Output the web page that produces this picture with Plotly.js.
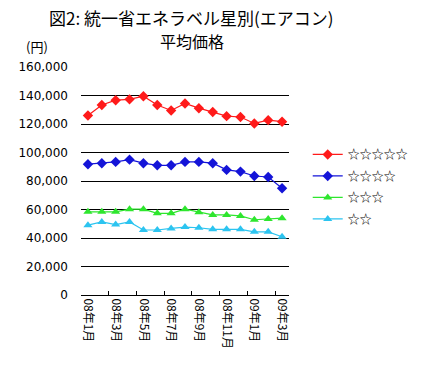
<!DOCTYPE html>
<html><head><meta charset="utf-8">
<script src="https://cdn.plot.ly/plotly-3.0.1.min.js"></script>
<style>html,body{margin:0;padding:0;background:#fff;}#chart{width:429px;height:390px;}</style>
</head><body><div id="chart"></div>
<script>
const months = ["08年1月","08年2月","08年3月","08年4月","08年5月","08年6月","08年7月","08年8月","08年9月","08年10月","08年11月","08年12月","09年1月","09年2月","09年3月"];
const tickLabels = ["08年1月","08年3月","08年5月","08年7月","08年9月","08年11月","09年1月","09年3月"];
const seriesNames = ["☆☆☆☆☆","☆☆☆☆","☆☆☆","☆☆"];
const star5 = [126000,133300,136700,137300,139500,133300,129500,134400,131100,128400,125500,124900,120400,122700,121600];
const star4 = [91800,92500,93400,95000,92500,91000,91000,93400,93400,92500,87800,86600,83500,82800,74900];
const star3 = [58400,58400,58400,60200,60200,57300,57300,60200,58000,56200,56200,55500,52800,53300,53900];
const star2 = [49000,51250,49450,51250,45600,45600,46750,47650,47200,46100,46100,46100,44300,44300,40900];
const titleLine1 = "図2: 統一省エネラベル星別(エアコン)";
const titleLine2 = "平均価格";
const yUnit = "(円)";

const colors = ["#ff1a1a","#1414d8","#2ee62e","#2cc4f0"];
const symbols = ["diamond","diamond","triangle-up","triangle-up"];
const values = [star5, star4, star3, star2];
const traces = values.map((v,i)=>({
  x: months, y: v, name: seriesNames[i], legendgroup: "g"+i, type: "scatter", mode: "lines+markers",
  line: {color: colors[i], width: 1.2},
  marker: {color: colors[i], symbol: symbols[i], size: 8}
}));
const F = "'Noto Sans CJK JP', 'DejaVu Sans', sans-serif";
const layout = {
  width: 429, height: 390,
  margin: {l: 81, r: 140, t: 67, b: 95},
  paper_bgcolor: "#fff", plot_bgcolor: "#fff",
  font: {family: F, size: 11, color: "#000"},
  showlegend: true,
  legend: {x: 1.09, xanchor: "left", y: 0.68, yanchor: "top", font: {family: F, size: 12, color: "#000"},
           bgcolor: "rgba(0,0,0,0)", borderwidth: 0, tracegroupgap: 2.5},
  xaxis: {type: "category", categoryorder: "array", categoryarray: months,
          tickvals: tickLabels, ticktext: tickLabels, tickson: "boundaries",
          tickangle: 90, ticks: "inside", ticklen: 4, tickcolor: "#000", tickwidth: 1,
          showline: true, linecolor: "#000", linewidth: 1, showgrid: false,
          tickfont: {family: F, size: 12, color: "#000"}, range: [-0.5, 14.5]},
  yaxis: {range: [0, 160000], dtick: 20000, tickformat: ",", showgrid: true, gridcolor: "#000", gridwidth: 1,
          zeroline: false, showline: false, ticks: "", ticklabelstandoff: 12,
          tickfont: {family: "'DejaVu Sans', sans-serif", size: 12, color: "#000"}},
  annotations: [
    {text: titleLine1, xref: "paper", yref: "paper", x: 0.53, y: (295-17.5)/228, xanchor: "center", yanchor: "middle",
     showarrow: false, font: {family: F, size: 17, color: "#000"}},
    {text: titleLine2, xref: "paper", yref: "paper", x: 0.534, y: (295-41)/228, xanchor: "center", yanchor: "middle",
     showarrow: false, font: {family: F, size: 16, color: "#000"}},
    {text: yUnit, xref: "paper", yref: "paper", x: -0.21, y: (295-47)/228, xanchor: "center", yanchor: "middle",
     showarrow: false, font: {family: F, size: 13, color: "#000"}}]
};
Plotly.newPlot("chart", traces, layout, {displayModeBar: false, staticPlot: true});
</script></body></html>
